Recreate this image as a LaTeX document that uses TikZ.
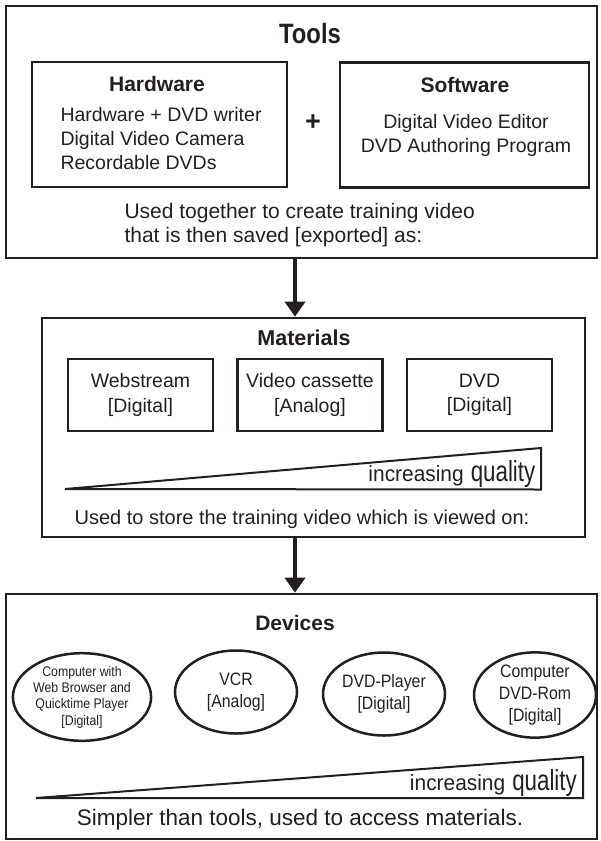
\documentclass[tikz,border=0pt]{standalone}
\usepackage{graphicx}
\usepackage{fontspec}
\setmainfont{Liberation Sans}
\newfontfamily\narrowfont{Liberation Sans}[FakeStretch=0.88]
\usepackage{tikz}
\usetikzlibrary{shapes.geometric, arrows.meta, positioning}
\definecolor{tinta}{HTML}{231F20}
\newcommand{\fsize}[2]{\fontsize{#1}{#2}\selectfont}
\tikzstyle{marco} = [rectangle, draw=tinta, line width=2.7pt, inner sep=0pt]
\tikzstyle{cajita} = [rectangle, draw=tinta, line width=2.7pt, align=center, inner sep=0pt, minimum width=145pt, minimum height=72pt, font=\fsize{19.5}{24.5}]
\tikzstyle{ovalo} = [ellipse, draw=tinta, line width=2.5pt, align=center, inner sep=0pt, minimum width=122pt, minimum height=83pt, font=\narrowfont\fsize{18}{22}]
\tikzstyle{titulo} = [text=tinta, font=\bfseries\fsize{21}{21}]
\tikzstyle{texto} = [text=tinta, font=\fsize{19.5}{24}]
\tikzstyle{flecha} = [draw=tinta, line width=4pt, -{Triangle[width=20pt,length=15pt]}]
\tikzstyle{cuna} = [draw=tinta, line width=2pt]
\newcommand{\calidad}{{\scalebox{0.95}[1]{\fsize{22}{22}increasing}\hspace{7pt}\scalebox{0.77}[1]{\fsize{29}{29}quality}}}

\begin{document}
\begin{tikzpicture}[x=1pt, y=-1pt, node distance=169.5pt, text=tinta]
        \useasboundingbox (0,0) rectangle (600,841);
        \coordinate (eje) at (295,0);

        % Tools
        \node (tools) [marco, minimum width=591pt, minimum height=252pt] at (301.5,132) {};
        \node (toolstit) [titulo, font=\bfseries\fsize{28}{28}] at (310,33) {\scalebox{0.85}[1]{Tools}};
        \node (hw) [cajita, minimum width=255pt, minimum height=125pt] at (159.5,124.5) {};
        \node (sw) [cajita, minimum width=249pt, minimum height=125pt] at (464.5,125) {};
        \node (hwtit) [titulo] at (157,84) {Hardware};
        \node (hwtxt) [texto, align=left, anchor=west] at (57,139) {Hardware + DVD writer\\ Digital Video Camera\\ Recordable DVDs};
        \node (swtit) [titulo] at (465,85) {Software};
        \node (swtxt) [texto, align=center] at (466,135) {Digital Video Editor\\ DVD Authoring Program};
        \node (mas) [titulo, font=\bfseries\fsize{27}{27}] at (313,123) {+};
        \node (tooltxt) [texto, align=left, anchor=west, font=\fsize{21}{24}] at (121,225) {Used together to create training video\\ that is then saved [exported] as:};

        % Materials
        \node (materials) [marco, minimum width=543pt, minimum height=219pt] at (313.5,427.5) {};
        \node (mattit) [titulo, font=\bfseries\fsize{21.5}{21.5}] at (304,338) {Materials};
        \node (web) [cajita] at (140.5,395) {Webstream\\{[Digital]}};
        \node (cassette) [cajita, right of=web] {Video cassette\\{[Analog]}};
        \node (dvd) [cajita, right of=cassette] {DVD\\{[Digital]}};
        \draw [cuna] (65,489) -- (541,448) -- (541,489.5) -- cycle;
        \node (matcal) [anchor=base east, inner sep=0pt] at (535.5,481) {\calidad};
        \node (mattxt) [texto, font=\fsize{20}{24}] at (302,519) {Used to store the training video which is viewed on:};

        % Devices
        \node (devices) [marco, minimum width=591pt, minimum height=245pt] at (301.5,716.5) {};
        \node (devtit) [titulo] at (295,623) {Devices};
        \node (pc) [ovalo, minimum width=130pt, minimum height=77pt, font=\narrowfont\fsize{14}{16.3}] at (82,697) {Computer with\\ Web Browser and\\ Quicktime Player\\{[Digital]}};
        \node (vcr) [ovalo] at (236,692) {VCR\\{[Analog]}};
        \node (player) [ovalo] at (384,694) {DVD-Player\\{[Digital]}};
        \node (rom) [ovalo] at (535,695) {Computer\\ DVD-Rom\\{[Digital]}};
        \draw [cuna] (36,798) -- (583,757) -- (583,798) -- cycle;
        \node (devcal) [anchor=base east, inner sep=0pt] at (577,790) {\calidad};
        \node (devtxt) [texto, font=\fsize{22.5}{24}] at (300,820) {Simpler than tools, used to access materials.};

        \draw [flecha] (tools.south -| eje) -- (materials.north -| eje);
        \draw [flecha] (materials.south -| eje) -- (devices.north -| eje);
\end{tikzpicture}
\end{document}
